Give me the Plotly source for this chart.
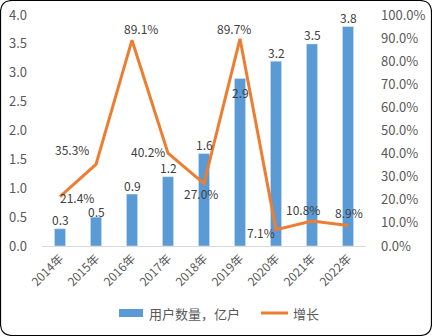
import plotly.graph_objects as go

years = ["2014年", "2015年", "2016年", "2017年", "2018年", "2019年", "2020年", "2021年", "2022年"]
users = [0.3, 0.5, 0.9, 1.2, 1.6, 2.9, 3.2, 3.5, 3.8]          # 用户数量，亿户
growth = [0.214, 0.353, 0.891, 0.402, 0.270, 0.897, 0.071, 0.108, 0.089]  # 增长

# label offsets (px) for the growth labels, relative to each point
growth_shift = [(17, -1), (-24, 15), (9, 12), (-20, 2), (-3, -10), (-6, 10), (-15, -3), (-9, 12), (1, 13)]
# bar value labels sit above the bar, except 2019 which sits just inside
bar_shift = [9, 6, 9, 9, 9, -14, 9, 9, 9]

BLUE = "#5b9bd5"
ORANGE = "#ed7d31"
TICK = "#595959"
LABEL = "#404040"
FONT = "Noto Sans CJK SC"

fig = go.Figure()
fig.add_trace(go.Bar(x=years, y=users, marker_color=BLUE, name="用户数量，亿户",
                     showlegend=False, hoverinfo="skip"))
fig.add_trace(go.Scatter(x=years, y=growth, yaxis="y2", mode="lines",
                         line=dict(color=ORANGE, width=3), name="增长",
                         showlegend=False, hoverinfo="skip"))

ann = []
for yr, v, s in zip(years, users, bar_shift):
    ann.append(dict(x=yr, y=v, xref="x", yref="y", text=f"{v:.1f}", showarrow=False,
                    yshift=s, font=dict(size=12, color=LABEL, family=FONT)))
for yr, g, (dx, dy) in zip(years, growth, growth_shift):
    ann.append(dict(x=yr, y=g, xref="x", yref="y2", text=f"{g*100:.1f}%", showarrow=False,
                    xshift=dx, yshift=dy, font=dict(size=12, color=LABEL, family=FONT)))

# legend drawn by hand: wide bar swatch and line swatch
L, R, T, B = 42, 66, 15, 90
W, H = 432 - L - R, 336 - T - B
def px(x):
    return (x - L) / W
def py(y):
    return (336 - B - y) / H

shapes = [
    dict(type="rect", xref="paper", yref="paper", x0=px(119), x1=px(143), y0=py(317), y1=py(309),
         fillcolor=BLUE, line=dict(width=0)),
    dict(type="line", xref="paper", yref="paper", x0=px(261), x1=px(288), y0=py(313), y1=py(313),
         line=dict(color=ORANGE, width=3)),
]
ann += [
    dict(xref="paper", yref="paper", x=px(147), y=py(313), text="用户数量，亿户", showarrow=False,
         xanchor="left", yanchor="middle", font=dict(size=13, color=TICK, family=FONT)),
    dict(xref="paper", yref="paper", x=px(291), y=py(313), text="增长", showarrow=False,
         xanchor="left", yanchor="middle", font=dict(size=13, color=TICK, family=FONT)),
]

# rounded outer border
x0, y0, x1, y1, r = px(0.5), py(0.5), px(431.5), py(335.5), 12
rx, ry = r / W, r / H
path = (f"M {x0+rx},{y0} L {x1-rx},{y0} Q {x1},{y0} {x1},{y0-ry} "
        f"L {x1},{y1+ry} Q {x1},{y1} {x1-rx},{y1} L {x0+rx},{y1} "
        f"Q {x0},{y1} {x0},{y1+ry} L {x0},{y0-ry} Q {x0},{y0} {x0+rx},{y0} Z")
shapes.append(dict(type="path", xref="paper", yref="paper", path=path,
                   line=dict(color="#000000", width=1.2)))

fig.update_layout(
    width=432, height=336,
    margin=dict(l=L, r=R, t=T, b=B, autoexpand=False),
    paper_bgcolor="white", plot_bgcolor="white",
    bargap=0.69,
    font=dict(family=FONT, color=TICK, size=12),
    xaxis=dict(tickangle=-45, tickfont=dict(size=12, color=TICK), showgrid=False, automargin=False,
               showline=True, linecolor="#d9d9d9", linewidth=1, ticks="", fixedrange=True),
    yaxis=dict(range=[0, 4], dtick=0.5, tickformat=".1f", showgrid=False, zeroline=False,
               automargin=False,
               tickfont=dict(size=13, color=TICK), ticklabelstandoff=14, fixedrange=True),
    yaxis2=dict(range=[0, 1], dtick=0.1, tickformat=".1%", overlaying="y", side="right",
                showgrid=False, zeroline=False, tickfont=dict(size=13, color=TICK),
                automargin=False, ticklabelstandoff=14, fixedrange=True),
    annotations=ann, shapes=shapes, showlegend=False,
)

fig.write_html("out.html")
